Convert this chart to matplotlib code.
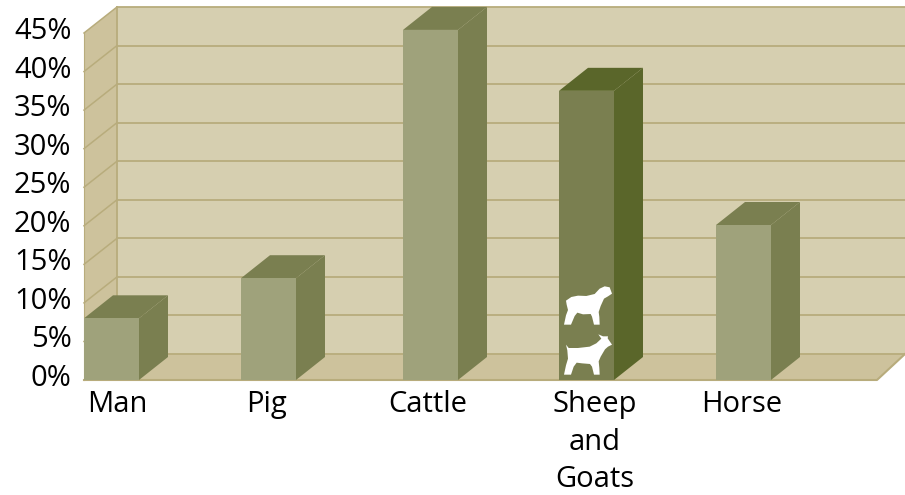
import matplotlib
matplotlib.use("Agg")
import matplotlib.pyplot as plt
from matplotlib.patches import Polygon
from matplotlib.transforms import ScaledTranslation

categories = ["Man", "Pig", "Cattle", "Sheep\nand\nGoats", "Horse"]
values = [8.0, 13.2, 45.4, 37.5, 20.1]
y_ticks = [0, 5, 10, 15, 20, 25, 30, 35, 40, 45]

# layout, x axis runs in figure pixels
bar_left = [84, 241, 403, 559, 716]
bar_width = 55
label_x = [117, 266, 428, 595, 742]
px_per_pct = 38.55
wall_dx, wall_dy = 33, 26 / px_per_pct * 5
bar_dx, bar_dy = 29, 23 / px_per_pct * 5
right_edge = 877

wall_col = "#D6CFB0"
side_col = "#CDC29C"
line_col = "#B8AC7C"
front_col = "#9FA27B"
dark_col = "#7A7F50"
front_hi = "#7A7F50"
dark_hi = "#5A662A"

plt.rcParams["font.family"] = ["Open Sans", "DejaVu Sans"]
fig = plt.figure(figsize=(9.05, 4.95), dpi=100)
ax = fig.add_axes([84 / 905, 115 / 495, (right_edge - 84) / 905, 347 / 495])
ax.set_xlim(84, right_edge)
ax.set_ylim(0, 45)
ax.patch.set_visible(False)
for s in ax.spines.values():
    s.set_visible(False)


def poly(pts, col, z, edge="none"):
    ax.add_patch(Polygon(pts, closed=True, facecolor=col, edgecolor=edge, lw=0.6,
                         zorder=z, clip_on=False))


top = y_ticks[-1]
back_x = 84 + wall_dx
# back wall, left wall and floor
poly([(back_x, wall_dy), (905, wall_dy), (905, top + wall_dy), (back_x, top + wall_dy)], wall_col, 1)
poly([(84, 0), (back_x, wall_dy), (back_x, top + wall_dy), (84, top)], side_col, 1)
poly([(84, 0), (back_x, wall_dy), (905, wall_dy), (right_edge, 0)], side_col, 1)

for t in y_ticks:
    ax.plot([back_x, 905], [t + wall_dy, t + wall_dy], color=line_col, lw=1.3, zorder=2, clip_on=False)
    ax.plot([84, back_x], [t, t + wall_dy], color=line_col, lw=1.1, zorder=2, clip_on=False)
ax.plot([back_x, back_x], [wall_dy, top + wall_dy], color=line_col, lw=1.3, zorder=2, clip_on=False)
ax.plot([84, 84], [0, top], color=line_col, lw=0.8, zorder=2, clip_on=False)
ax.plot([84, right_edge, 905], [0, 0, wall_dy], color=line_col, lw=1.5, zorder=2, clip_on=False)

for i in range(len(values)):
    x0 = bar_left[i]
    x1 = x0 + bar_width
    v = values[i]
    hi = categories[i].startswith("Sheep")
    fc = front_hi if hi else front_col
    dc = dark_hi if hi else dark_col
    ax.bar(x0, v, width=bar_width, align="edge", color=fc, zorder=4, clip_on=False)
    poly([(x1, 0), (x1 + bar_dx, bar_dy), (x1 + bar_dx, v + bar_dy), (x1, v)], dc, 3)
    poly([(x0, v), (x1, v), (x1 + bar_dx, v + bar_dy), (x0 + bar_dx, v + bar_dy)], dc, 3)

# animal icons on the sheep and goats bar (3x crop pixels)
sheep_icon = [(24, 56), (40, 45), (60, 41), (85, 42), (110, 36), (125, 20), (140, 13), (155, 16),
              (162, 35), (150, 43), (138, 50), (128, 72), (122, 90), (124, 105), (125, 128),
              (108, 128), (102, 104), (98, 96), (75, 97), (58, 92), (50, 102), (39, 128),
              (18, 128), (24, 100), (30, 84), (26, 68)]
goat_icon = [(24, 38), (32, 48), (60, 48), (95, 44), (115, 34), (130, 20), (121, 7), (135, 13),
             (150, 13), (149, 19), (162, 38), (150, 44), (141, 52), (128, 74), (122, 88),
             (124, 108), (125, 128), (108, 128), (102, 104), (96, 96), (72, 94), (56, 92),
             (47, 104), (39, 128), (18, 128), (24, 100), (30, 80), (28, 55)]
for icon, oy in [(sheep_icon, 282), (goat_icon, 332)]:
    pts = [(558 + px / 3, (380 - (oy + py / 3)) / px_per_pct * 5) for px, py in icon]
    poly(pts, "white", 5)

ax.set_yticks(y_ticks)
ax.set_yticklabels([str(t) + "%" for t in y_ticks], fontsize=21)
ax.set_xticks(label_x)
ax.set_xticklabels(categories, fontsize=21, linespacing=1.38)
ax.tick_params(axis="both", length=0)
ax.tick_params(axis="y", pad=9)
ax.tick_params(axis="x", pad=7.5)
shift = ScaledTranslation(0, 5 / 100, fig.dpi_scale_trans)
for lab in ax.get_yticklabels():
    lab.set_transform(lab.get_transform() + shift)

fig.savefig("out.png", dpi=100)
